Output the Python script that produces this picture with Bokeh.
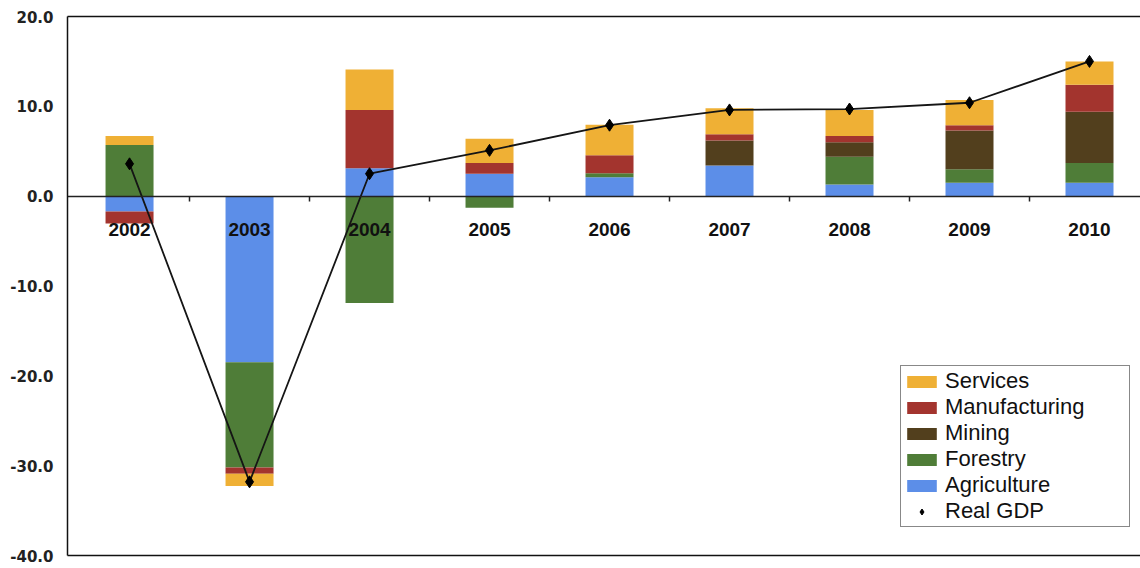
import numpy as np
from bokeh.plotting import figure
from bokeh.models import (Range1d, FixedTicker, LinearAxis, NumeralTickFormatter,
                          Legend, LegendItem)
from bokeh.embed import file_html
from bokeh.resources import INLINE

# ---- data ----
years = ["2002", "2003", "2004", "2005", "2006", "2007", "2008", "2009", "2010"]
agriculture   = [-1.7, -18.5,   3.1,  2.5, 2.1,  3.4, 1.3, 1.5, 1.5]
forestry      = [ 5.7, -11.7, -11.9, -1.3, 0.45, 0.0, 3.1, 1.5, 2.2]
mining        = [ 0.0,   0.0,   0.0,  0.0, 0.0,  2.8, 1.6, 4.3, 5.7]
manufacturing = [-1.35, -0.7,   6.5,  1.2, 2.0,  0.7, 0.7, 0.6, 3.0]
services      = [ 1.0,  -1.35,  4.5,  2.7, 3.4,  2.9, 2.9, 2.8, 2.6]
real_gdp      = [ 3.6, -31.8,   2.5,  5.1, 7.9,  9.6, 9.7, 10.4, 15.0]
y_ticks = [-40, -30, -20, -10, 0, 10, 20]

colors = {
    "Agriculture": "#5C8EE8",
    "Forestry": "#4F7D38",
    "Mining": "#523F1D",
    "Manufacturing": "#A3342E",
    "Services": "#EFB035",
}

x = np.arange(len(years))

p = figure(width=1140, height=566, output_backend="svg", toolbar_location=None,
           x_range=Range1d(-0.517, 8.425), y_range=Range1d(-40, 20),
           min_border_left=67, min_border_right=0, min_border_top=16,
           min_border_bottom=11, background_fill_color="white",
           border_fill_color="white")
p.outline_line_color = None
p.xgrid.visible = False
p.ygrid.visible = False

# stacked bars (positives upward, negatives downward, in series order)
series = [("Agriculture", agriculture), ("Forestry", forestry), ("Mining", mining),
          ("Manufacturing", manufacturing), ("Services", services)]
pos_base = np.zeros(len(x))
neg_base = np.zeros(len(x))
renderers = {}
for name, vals in series:
    v = np.array(vals, dtype=float)
    bottom = np.where(v >= 0, pos_base, neg_base)
    top = bottom + v
    pos_base = np.where(v >= 0, top, pos_base)
    neg_base = np.where(v < 0, top, neg_base)
    renderers[name] = p.vbar(x=x, bottom=bottom, top=top, width=0.4,
                             fill_color=colors[name], line_color=None)

# Real GDP line
p.line(x, real_gdp, line_color="#151515", line_width=1.8)
gdp_r = p.scatter(x, real_gdp, marker="diamond", size=12,
                  fill_color="black", line_color="black")

# y axis
yax = p.yaxis[0]
yax.ticker = FixedTicker(ticks=y_ticks)
yax.formatter = NumeralTickFormatter(format="0.0")
yax.major_label_text_font = "DejaVu Sans"
yax.major_label_text_font_style = "bold"
yax.major_label_text_font_size = "15px"
yax.major_label_text_color = "#222222"
yax.major_tick_line_color = None
yax.minor_tick_line_color = None
yax.major_tick_out = 0
yax.major_label_standoff = 14
yax.axis_line_color = "#111111"
yax.axis_line_width = 1.5

# x axis at zero
xax = p.xaxis[0]
xax.fixed_location = 0
xax.ticker = FixedTicker(ticks=list(x), minor_ticks=list(x[:-1] + 0.5))
xax.major_label_overrides = {int(i): y for i, y in zip(x, years)}
xax.major_tick_line_color = None
xax.major_tick_out = 0
xax.major_tick_in = 0
xax.minor_tick_line_color = "#222222"
xax.minor_tick_line_width = 1.5
xax.minor_tick_out = 5
xax.minor_tick_in = 0
xax.major_label_standoff = 22
xax.major_label_text_font = "Liberation Sans"
xax.major_label_text_font_style = "bold"
xax.major_label_text_font_size = "19px"
xax.major_label_text_color = "#111111"
xax.axis_line_color = "#222222"
xax.axis_line_width = 1.5

# frame borders (top, bottom)
for side in ("above", "below"):
    ax = LinearAxis(ticker=FixedTicker(ticks=[]), axis_line_color="#111111",
                    axis_line_width=1.5, major_tick_line_color=None,
                    minor_tick_line_color=None, major_tick_out=0, minor_tick_out=0,
                    major_label_standoff=0, major_label_text_font_size="0px")
    p.add_layout(ax, side)

# legend
items = [LegendItem(label=n, renderers=[renderers[n]])
         for n in ["Services", "Manufacturing", "Mining", "Forestry", "Agriculture"]]
items.append(LegendItem(label="Real GDP", renderers=[gdp_r]))
legend = Legend(items=items, location=(833, 28), orientation="vertical",
                glyph_width=37, glyph_height=15, label_height=26, spacing=0,
                padding=2, margin=0, label_standoff=5, label_width=182,
                label_text_font="Liberation Sans", label_text_font_size="22px",
                label_text_color="#111111", border_line_color="#111111",
                border_line_width=1.5, background_fill_color="white",
                background_fill_alpha=1.0)
p.add_layout(legend)

open("out.html", "w").write(file_html(p, INLINE))
